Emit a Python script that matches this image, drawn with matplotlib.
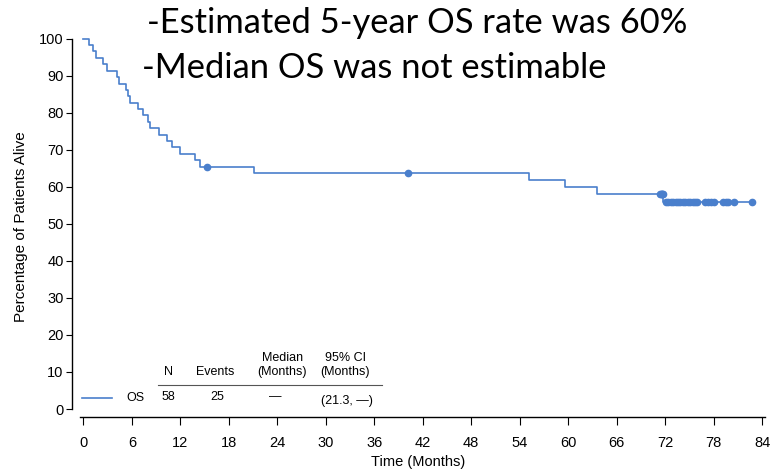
import matplotlib
matplotlib.use("Agg")
import matplotlib.pyplot as plt

# Kaplan-Meier OS curve
event_times = [0.7, 1.2, 1.5, 2.4, 2.9, 4.1, 4.4, 5.3, 5.5, 5.7, 6.8, 7.4, 8.0, 8.2,
               9.4, 10.4, 10.9, 12.0, 13.8, 14.4, 21.1, 55.2, 59.6, 63.6, 71.8]
surv_after = [98.3, 96.6, 94.8, 93.1, 91.4, 89.7, 87.9, 86.2, 84.5, 82.8, 81.0, 79.3,
              77.6, 75.9, 74.1, 72.4, 70.7, 69.0, 67.2, 65.5, 63.7, 61.9, 60.0, 58.2, 56.0]
last_time = 82.7

censor_times = [15.3, 40.2, 71.4, 71.5, 71.6, 71.65, 71.7,
                72.1, 72.4, 72.7, 73.0, 73.3, 73.6, 73.9, 74.2, 74.5, 74.8, 75.1,
                75.4, 75.7, 76.0, 77.0, 77.3, 77.7, 78.0, 79.2, 79.5, 79.8, 80.5, 82.7]
censor_surv = [65.5, 63.7, 58.2, 58.2, 58.2, 58.2, 58.2,
               56.0, 56.0, 56.0, 56.0, 56.0, 56.0, 56.0, 56.0, 56.0, 56.0, 56.0,
               56.0, 56.0, 56.0, 56.0, 56.0, 56.0, 56.0, 56.0, 56.0, 56.0, 56.0, 56.0]

x_ticks = list(range(0, 85, 6))
y_ticks = list(range(0, 101, 10))

table_header = ["N", "Events", "Median\n(Months)", "95% CI\n(Months)"]
table_row = ["58", "25", "\u2014", "(21.3, \u2014)"]
series_name = "OS"

title_lines = ["-Estimated 5-year OS rate was 60%", "-Median OS was not estimable"]

blue = "#4A7FCC"
plt.rcParams["font.family"] = ["Liberation Sans", "DejaVu Sans"]

fig = plt.figure(figsize=(7.71, 4.71), dpi=100)
ax = fig.add_axes([72 / 771, 54 / 471, 693 / 771, 380 / 471])

xs = [0] + event_times + [last_time]
ys = [100] + surv_after + [surv_after[-1]]
ax.step(xs, ys, where="post", color=blue, lw=1.2)
ax.plot(censor_times, censor_surv, "o", color=blue, ms=4.5, mec=blue)

ax.set_xlim(-1.42, 84.37)
ax.set_ylim(-2.16, 100.5)
ax.set_xticks(x_ticks)
ax.set_yticks(y_ticks)
ax.spines["top"].set_visible(False)
ax.spines["right"].set_visible(False)
ax.spines["left"].set_bounds(0, 100)
ax.spines["bottom"].set_bounds(-0.45, 84.35)
for s in ("left", "bottom"):
    ax.spines[s].set_linewidth(1.0)
ax.tick_params(axis="y", length=4, labelsize=10.5, pad=2)
ax.tick_params(axis="x", length=6, labelsize=10.5, pad=8)
ax.set_ylabel("Percentage of Patients Alive", fontsize=11, labelpad=8)
ax.set_xlabel("Time (Months)", fontsize=10.5, labelpad=3)

# in-plot summary table
hdr_x = [10.5, 16.3, 24.6, 32.4]
for hx, h in zip(hdr_x, table_header):
    ax.text(hx, 8.3, h, ha="center", va="bottom", fontsize=9, linespacing=1.25)
ax.plot([9.2, 36.9], [6.5, 6.5], color="#555555", lw=0.8)
ax.plot([-0.2, 3.5], [3.0, 3.0], color=blue, lw=1.2)
ax.text(6.4, 3.0, series_name, ha="center", va="center", fontsize=9)
row_x = [10.5, 16.5, 23.7, 32.6]
for rx, r in zip(row_x, table_row):
    ax.text(rx, 3.2 if r != table_row[-1] else 2.2, r, ha="center", va="center", fontsize=9)

fig.text(147 / 771, 1 - 33 / 471, title_lines[0], fontsize=24.8, family=["Lato", "DejaVu Sans"],
         ha="left", va="baseline")
fig.text(142 / 771, 1 - 78 / 471, title_lines[1], fontsize=24.8, family=["Lato", "DejaVu Sans"],
         ha="left", va="baseline")

fig.savefig("out.png", dpi=100)
